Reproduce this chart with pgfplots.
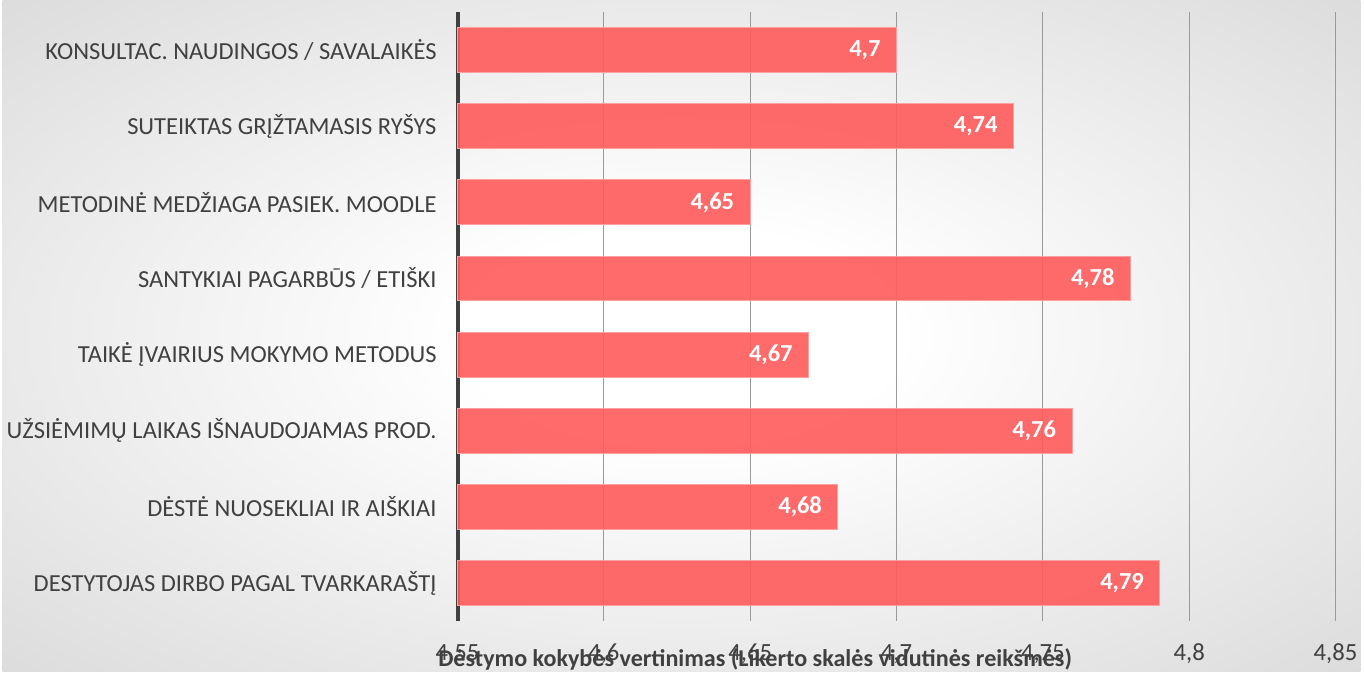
\documentclass[border=0pt]{standalone}
\usepackage{fontspec}
\setmainfont{Carlito}
\usepackage{pgfplots}
\pgfplotsset{compat=1.18}
\definecolor{barred}{HTML}{FF5A5A}
\definecolor{baredge}{HTML}{FFA0A0}
\definecolor{txt}{HTML}{404040}
\definecolor{gridc}{HTML}{9A9A9A}
\pgfdeclareradialshading{bgshade}{\pgfpoint{0bp}{0bp}}{color(0bp)=(white); color(8bp)=(white); color(50bp)=(black!21); color(72bp)=(black!26)}
\begin{document}
\begin{tikzpicture}
\shade[shading=bgshade] (0,0) rectangle (682pt,337.5pt);
\begin{axis}[
  at={(228.5pt,25.5pt)}, anchor=south west,
  width=441pt, height=306pt, scale only axis,
  xbar, bar width=22.5pt,
  xmin=4.55, xmax=4.85,
  ymin=-0.5, ymax=7.5, y dir=reverse,
  xtick={4.55,4.6,4.65,4.7,4.75,4.8,4.85},
  xticklabels={{4,55},{4,6},{4,65},{4,7},{4,75},{4,8},{4,85}},
  ytick={0,...,7},
  yticklabels={KONSULTAC. NAUDINGOS / SAVALAIKĖS, SUTEIKTAS GRĮŽTAMASIS RYŠYS, METODINĖ MEDŽIAGA PASIEK. MOODLE, SANTYKIAI PAGARBŪS / ETIŠKI, TAIKĖ ĮVAIRIUS MOKYMO METODUS, UŽSIĖMIMŲ LAIKAS IŠNAUDOJAMAS PROD., DĖSTĖ NUOSEKLIAI IR AIŠKIAI, DESTYTOJAS DIRBO PAGAL TVARKARAŠTĮ},
  major tick length=0pt,
  axis lines*=left,
  x axis line style={draw=none},
  y axis line style={line width=2pt, draw=txt},
  xmajorgrids, grid style={gridc, line width=0.5pt},
  tick label style={font=\fontsize{12.4}{14}\selectfont, text=txt},
  yticklabel style={font=\fontsize{12.3}{14}\selectfont, anchor=east, xshift=-7pt},
  xticklabel style={anchor=base, yshift=-19.5pt},
  xlabel={\bfseries Dėstymo kokybės vertinimas (Likerto skalės vidutinės reikšmės)},
  xlabel style={at={(axis description cs:0.339,0)}, anchor=base, yshift=-23pt, font=\fontsize{12.1}{14}\selectfont, text=txt},
  point meta=x,
  nodes near coords={\pgfmathprintnumber[use comma, assume math mode=true]{\pgfplotspointmeta}},
  every node near coord/.append style={anchor=east, xshift=-4.5pt, font=\bfseries\fontsize{12.3}{14}\selectfont, text=white},
  clip=false,
]
\addplot[fill=barred, fill opacity=0.9, draw=baredge, line width=0.5pt, text opacity=1] coordinates {
  (4.70,0) (4.74,1) (4.65,2) (4.78,3) (4.67,4) (4.76,5) (4.68,6) (4.79,7)
};
\end{axis}
\end{tikzpicture}
\end{document}
